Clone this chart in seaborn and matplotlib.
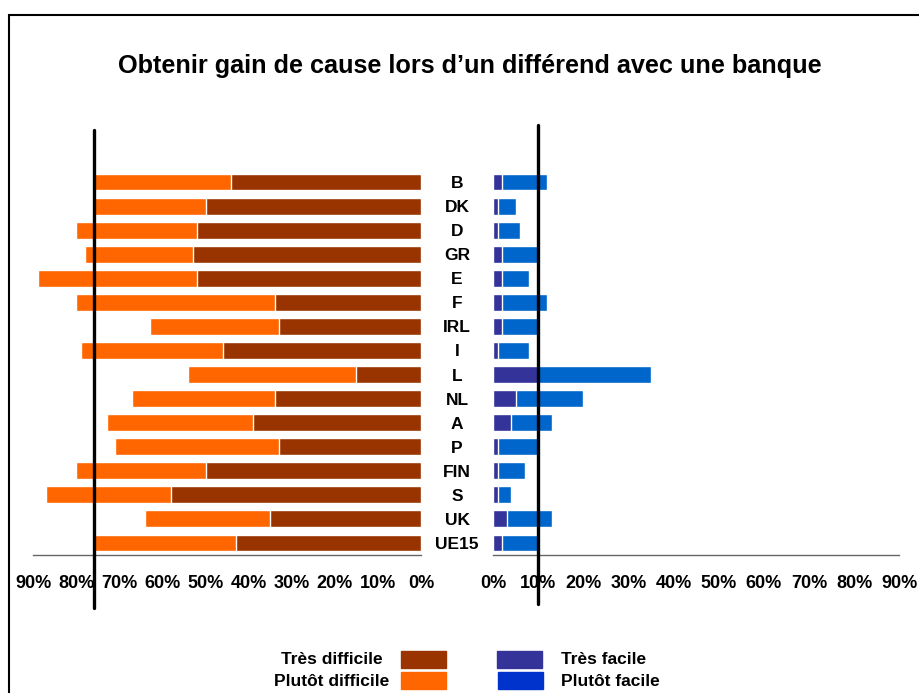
import matplotlib
matplotlib.use("Agg")
import matplotlib.pyplot as plt
from matplotlib.patches import Rectangle
import seaborn as sns
import pandas as pd

pays = ["B", "DK", "D", "GR", "E", "F", "IRL", "I", "L", "NL", "A", "P", "FIN", "S", "UK", "UE15"]
tres_difficile = [44, 50, 52, 53, 52, 34, 33, 46, 15, 34, 39, 33, 50, 58, 35, 43]
plutot_difficile = [32, 26, 28, 25, 37, 46, 30, 33, 39, 33, 34, 38, 30, 29, 29, 33]
tres_facile = [2, 1, 1, 2, 2, 2, 2, 1, 10, 5, 4, 1, 1, 1, 3, 2]
plutot_facile = [10, 4, 5, 8, 6, 10, 8, 7, 25, 15, 9, 9, 6, 3, 10, 8]
ticks = [0, 10, 20, 30, 40, 50, 60, 70, 80, 90]
tick_labels = [f"{t}%" for t in ticks]

title = "Obtenir gain de cause lors d\u2019un différend avec une banque"
lab_td, lab_pd, lab_tf, lab_pf = "Très difficile", "Plutôt difficile", "Très facile", "Plutôt facile"

c_td, c_pd, c_tf, c_pf, c_pf_leg = "#993300", "#FF6600", "#333399", "#0066CC", "#0033CC"

df = pd.DataFrame({
    "pays": pays,
    "td": tres_difficile,
    "diff_total": [a + b for a, b in zip(tres_difficile, plutot_difficile)],
    "tf": tres_facile,
    "fac_total": [a + b for a, b in zip(tres_facile, plutot_facile)],
})

sns.set_style("white")
plt.rcParams["font.family"] = ["Liberation Sans", "DejaVu Sans"]
plt.rcParams["font.weight"] = "bold"
plt.rcParams["text.color"] = "black"
plt.rcParams["xtick.color"] = "black"
plt.rcParams["ytick.color"] = "black"
plt.rcParams["xtick.labelcolor"] = "black"
plt.rcParams["ytick.labelcolor"] = "black"

W, H = 919, 693
fig = plt.figure(figsize=(W / 100, H / 100), dpi=100)

def fx(px):
    return px / W

def fy(py):
    return 1 - py / H

top_px, bot_px = 170, 555
axL = fig.add_axes([fx(33.3), fy(bot_px), fx(421 - 33.3), (bot_px - top_px) / H])
axR = fig.add_axes([fx(493), fy(bot_px), fx(899.3 - 493), (bot_px - top_px) / H])

bw = 0.7
sns.barplot(data=df, y="pays", x="diff_total", order=pays, color=c_pd, orient="h",
            width=bw, saturation=1, ax=axL)
sns.barplot(data=df, y="pays", x="td", order=pays, color=c_td, orient="h",
            width=bw, saturation=1, ax=axL)
sns.barplot(data=df, y="pays", x="fac_total", order=pays, color=c_pf, orient="h",
            width=bw, saturation=1, ax=axR)
sns.barplot(data=df, y="pays", x="tf", order=pays, color=c_tf, orient="h",
            width=bw, saturation=1, ax=axR)

for ax in (axL, axR):
    ax.set_ylim(len(pays) - 0.5, -0.5)
    ax.set_xticks(ticks)
    ax.set_xticklabels(tick_labels, fontsize=13, fontweight="bold", color="black")
    ax.set_xlabel("")
    ax.set_ylabel("")
    for s in ("top", "left", "right"):
        ax.spines[s].set_visible(False)
    ax.spines["bottom"].set_color("#666666")
    ax.spines["bottom"].set_linewidth(1.0)
    ax.tick_params(axis="x", direction="out", length=4.5, width=1.0, color="#666666",
                   pad=10, labelsize=13)
    ax.set_facecolor("none")

axL.set_xlim(90, 0)
axR.set_xlim(0, 90)

axL.yaxis.tick_right()
axL.tick_params(axis="y", length=0, pad=26, labelsize=12.5)
for t in axL.get_yticklabels():
    t.set_ha("center")
    t.set_fontweight("bold")
    t.set_color("black")
axR.set_yticks([])

# reference lines at UE15 totals
ue_d = df["diff_total"].iloc[-1]
ue_f = df["fac_total"].iloc[-1]
axL.axvline(ue_d, ymin=(bot_px - 608) / (bot_px - top_px), ymax=(bot_px - 130) / (bot_px - top_px),
            color="black", lw=2.4, clip_on=False, zorder=5)
axR.axvline(ue_f, ymin=(bot_px - 604) / (bot_px - top_px), ymax=(bot_px - 125) / (bot_px - top_px),
            color="black", lw=2.4, clip_on=False, zorder=5)

fig.text(fx(469.5), fy(66), title, ha="center", va="center", fontsize=18.2, fontweight="bold")

# frame
fig.patches.append(Rectangle((fx(9), -0.1), 1.2, fy(15) + 0.1, transform=fig.transFigure,
                             fill=False, edgecolor="black", lw=1.5))

# legend
pw, ph = 45 / W, 16.7 / H
fig.patches.append(Rectangle((fx(401), fy(667.7)), pw, ph, transform=fig.transFigure, color=c_td))
fig.patches.append(Rectangle((fx(401), fy(688.7)), pw, ph, transform=fig.transFigure, color=c_pd))
fig.patches.append(Rectangle((fx(497), fy(667.7)), pw, ph, transform=fig.transFigure, color=c_tf))
fig.patches.append(Rectangle((fx(498), fy(688.7)), pw, ph, transform=fig.transFigure, color=c_pf_leg))
fig.text(fx(331.5), fy(660), lab_td, ha="center", va="center", fontsize=12.5, fontweight="bold")
fig.text(fx(331.5), fy(681), lab_pd, ha="center", va="center", fontsize=12.5, fontweight="bold")
fig.text(fx(561), fy(660), lab_tf, ha="left", va="center", fontsize=12.5, fontweight="bold")
fig.text(fx(561), fy(681), lab_pf, ha="left", va="center", fontsize=12.5, fontweight="bold")

fig.savefig("out.png", dpi=100)
